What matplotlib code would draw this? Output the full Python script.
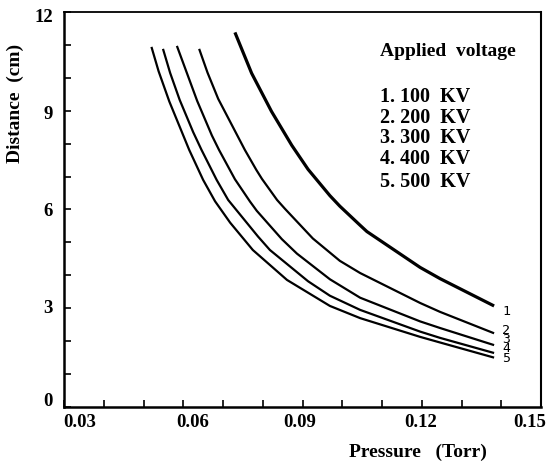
import matplotlib
matplotlib.use("Agg")
import matplotlib.pyplot as plt
from matplotlib.ticker import MultipleLocator, FixedLocator, FixedFormatter
from matplotlib.transforms import ScaledTranslation

# ---- data ----
curve_labels = ["1", "2", "3", "4", "5"]
voltages = ["100", "200", "300", "400", "500"]

p1 = [0.0730, 0.0772, 0.0822, 0.0873, 0.0914, 0.0969, 0.0994, 0.1045, 0.1062,
      0.1196, 0.1246, 0.1382]
d1 = [11.38, 10.14, 8.98, 7.95, 7.22, 6.42, 6.10, 5.52, 5.33, 4.24, 3.90, 3.07]

p2 = [0.0640, 0.0661, 0.0688, 0.0755, 0.0784, 0.0798, 0.0836, 0.0856, 0.0926,
      0.0994, 0.1045, 0.1196, 0.1246, 0.1382]
d2 = [10.88, 10.16, 9.36, 7.81, 7.20, 6.93, 6.29, 6.02, 5.12, 4.44, 4.07, 3.16, 2.89, 2.24]

p3 = [0.0584, 0.0635, 0.0672, 0.0690, 0.0730, 0.0768, 0.0785, 0.0848, 0.0886,
      0.0969, 0.1045, 0.1196, 0.1246, 0.1382]
d3 = [10.97, 9.30, 8.25, 7.81, 6.92, 6.24, 5.96, 5.10, 4.66, 3.88, 3.32, 2.60, 2.40, 1.88]

p4 = [0.0549, 0.0567, 0.0591, 0.0625, 0.0646, 0.0684, 0.0713, 0.0788, 0.0818,
      0.0914, 0.0969, 0.1045, 0.1196, 0.1246, 0.1382]
d4 = [10.88, 10.15, 9.33, 8.35, 7.81, 6.90, 6.29, 5.18, 4.77, 3.82, 3.38, 2.95, 2.29,
      2.10, 1.64]

p5 = [0.0520, 0.0538, 0.0565, 0.0615, 0.0650, 0.0680, 0.0718, 0.0775, 0.0861,
      0.0969, 0.1045, 0.1196, 0.1246, 0.1382]
d5 = [10.94, 10.20, 9.28, 7.81, 6.90, 6.25, 5.60, 4.77, 3.86, 3.07, 2.70, 2.13, 1.96, 1.50]

x_ticks = [0.03, 0.06, 0.09, 0.12, 0.15]
x_ticklabels = ["0.03", "0.06", "0.09", "0.12", "0.15"]
y_ticks = [0, 3, 6, 9, 12]
y_ticklabels = ["0", "3", "6", "9", "12"]

pressures = [p1, p2, p3, p4, p5]
distances = [d1, d2, d3, d4, d5]

# ---- styling ----
serif = "Liberation Serif"
plt.rcParams["font.family"] = serif

fig = plt.figure(figsize=(5.5, 4.7), dpi=100)
ax = fig.add_axes([64 / 550, 1 - 407 / 470, 477 / 550, 395 / 470])

widths = [2.3, 1.6, 1.6, 1.6, 1.6]
label_offsets = [(12, -6), (12, 3), (12, 6), (12, 5), (12, -1)]
for p, d, lw, lab, off in zip(pressures, distances, widths, curve_labels, label_offsets):
    ax.plot(p, d, color="black", lw=lw, solid_capstyle="butt", solid_joinstyle="round")
    ax.annotate(lab, xy=(p[-1], d[-1]), xytext=off, textcoords="offset pixels",
                ha="center", va="center", fontsize=9.5,
                family="DejaVu Sans Mono", color="black")

ax.set_xlim(0.03, 0.15)
ax.set_ylim(0, 12)

ax.xaxis.set_major_locator(FixedLocator(x_ticks))
ax.xaxis.set_major_formatter(FixedFormatter(x_ticklabels))
ax.xaxis.set_minor_locator(MultipleLocator(0.01))
ax.yaxis.set_major_locator(FixedLocator(y_ticks))
ax.yaxis.set_major_formatter(FixedFormatter(y_ticklabels))
ax.yaxis.set_minor_locator(MultipleLocator(1))

ax.tick_params(which="both", direction="in", width=1.2, colors="black")
ax.tick_params(which="major", length=5, labelsize=13.5)
ax.tick_params(axis="x", which="major", pad=5)
ax.tick_params(axis="y", which="major", pad=8)
ax.tick_params(which="minor", length=5)

fig.canvas.draw()
x_shift = [16, 9, -3, -1, -11]
y_shift = [7, 2, 0, -2, -4]
for t, dx in zip(ax.get_xticklabels(), x_shift):
    t.set_fontweight("bold")
    t.set_transform(t.get_transform() + ScaledTranslation(dx / 100, 0, fig.dpi_scale_trans))
for t, dy in zip(ax.get_yticklabels(), y_shift):
    t.set_fontweight("bold")
    t.set_transform(t.get_transform() + ScaledTranslation(0, dy / 100, fig.dpi_scale_trans))

for side, lw in [("left", 1.8), ("bottom", 1.8), ("right", 1.5), ("top", 1.3)]:
    ax.spines[side].set_linewidth(lw)
    ax.spines[side].set_color("black")

fig.text(15 / 550, 1 - 103 / 470, "Distance  (cm)", rotation=90, ha="center", va="center",
         fontsize=14, fontweight="bold", family=serif)
fig.text(418 / 550, 1 - 452 / 470, "Pressure   (Torr)", ha="center", va="center",
         fontsize=14, fontweight="bold", family=serif)

fig.text(380 / 550, 1 - 52 / 470, "Applied  voltage", ha="left", va="center",
         fontsize=14, fontweight="bold", family=serif)
legend_y = [97, 118, 138, 159, 182]
for i, (lab, v) in enumerate(zip(curve_labels, voltages)):
    fig.text(380 / 550, 1 - legend_y[i] / 470, f"{lab}. {v}  KV", ha="left", va="center",
             fontsize=14.5, fontweight="bold", family=serif)

fig.savefig("out.png", dpi=100)
